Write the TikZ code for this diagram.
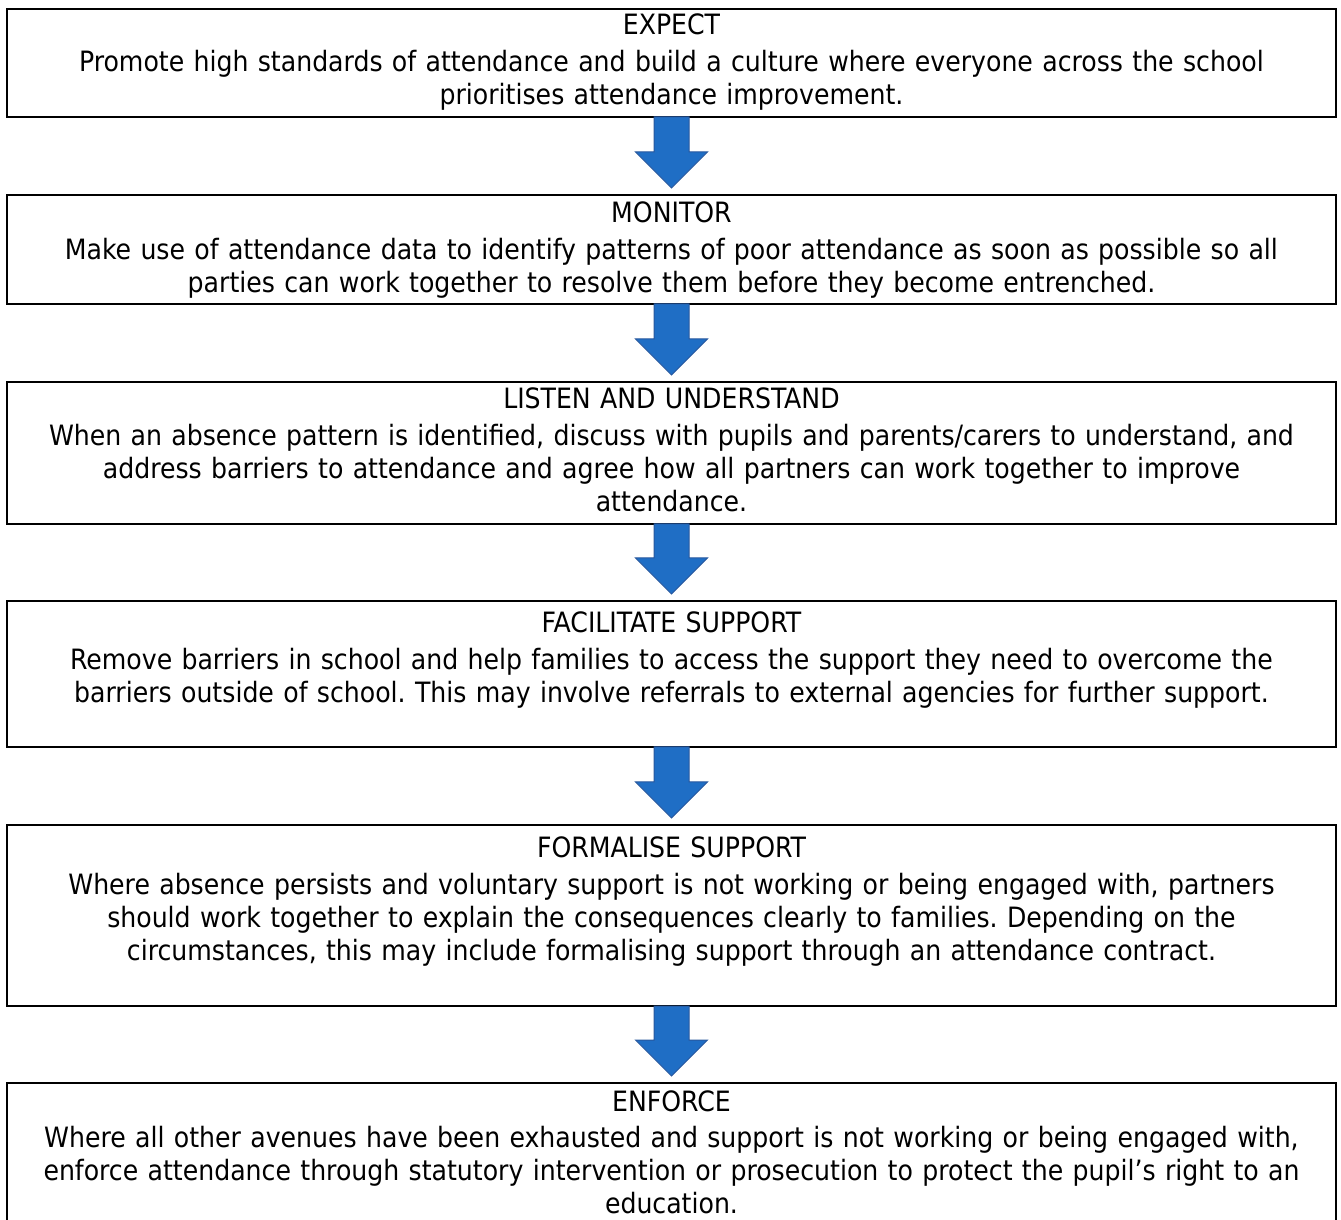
\documentclass[tikz,border=0pt]{standalone}
\usepackage{fontspec}
\setmainfont{DejaVu Sans Condensed}
\usepackage{tikz}
\usetikzlibrary{calc,positioning}
\definecolor{arrowblue}{RGB}{31,110,197}
\definecolor{arrowedge}{RGB}{40,88,158}
\tikzset{
  stagebox/.style={draw=black, line width=2.8pt, anchor=north, outer sep=0pt,
    minimum width=1329pt},
  stagetext/.style={anchor=north, text width=1320pt, align=center, inner xsep=0pt,
    inner ysep=4pt, font=\fontsize{28}{33}\selectfont},
  blockarrow/.style={fill=arrowblue, draw=arrowedge, line width=1pt, line join=miter}
}
\frenchspacing
% block arrow from the bottom of one stage to the top of the next
\newcommand{\stagearrow}[2]{%
  \draw[blockarrow] ($(#1.south)+(-17.5,0)$) -- ($(#1.south)+(17.5,0)$)
    -- ($(#2.north)+(17.5,43)$) -- ($(#2.north)+(36,43)$)
    -- ($(#2.north)+(0,7)$) -- ($(#2.north)+(-36,43)$)
    -- ($(#2.north)+(-17.5,43)$) -- cycle;}

\begin{document}
\begin{tikzpicture}[x=1pt,y=1pt]
\useasboundingbox[fill=white] (0,0) rectangle (1341,1219);

% Stage boxes
\node[stagebox, minimum height=108] (expect) at (671.5,1210) {};
\node[stagebox, minimum height=109] (monitor) at (671.5,1024) {};
\node[stagebox, minimum height=142] (listen) at (671.5,837) {};
\node[stagebox, minimum height=146] (facilitate) at (671.5,618) {};
\node[stagebox, minimum height=181] (formalise) at (671.5,394) {};
\node[stagebox, minimum height=150] (enforce) at (671.5,136) {};

% Stage texts
\node[stagetext, yshift=-1] (expecttext) at (expect.north) {EXPECT\\[4pt]
Promote high standards of attendance and build a culture where everyone across the school\\
prioritises attendance improvement.};
\node[stagetext, yshift=-3] (monitortext) at (monitor.north) {MONITOR\\[4pt]
Make use of attendance data to identify patterns of poor attendance as soon as possible so all\\
parties can work together to resolve them before they become entrenched.};
\node[stagetext, yshift=-2] (listentext) at (listen.north) {LISTEN AND UNDERSTAND\\[4pt]
When an absence pattern is identified, discuss with pupils and parents/carers to understand, and\\
address barriers to attendance and agree how all partners can work together to improve\\
attendance.};
\node[stagetext, yshift=-7] (facilitatetext) at (facilitate.north) {FACILITATE SUPPORT\\[4pt]
Remove barriers in school and help families to access the support they need to overcome the\\
barriers outside of school. This may involve referrals to external agencies for further support.};
\node[stagetext, yshift=-8] (formalisetext) at (formalise.north) {FORMALISE SUPPORT\\[4pt]
Where absence persists and voluntary support is not working or being engaged with, partners\\
should work together to explain the consequences clearly to families. Depending on the\\
circumstances, this may include formalising support through an attendance contract.};
\node[stagetext, yshift=-4] (enforcetext) at (enforce.north) {ENFORCE\\[3pt]
Where all other avenues have been exhausted and support is not working or being engaged with,\\
enforce attendance through statutory intervention or prosecution to protect the pupil’s right to an\\
education.};

% Arrows
\stagearrow{expect}{monitor}
\stagearrow{monitor}{listen}
\stagearrow{listen}{facilitate}
\stagearrow{facilitate}{formalise}
\stagearrow{formalise}{enforce}
\end{tikzpicture}
\end{document}
